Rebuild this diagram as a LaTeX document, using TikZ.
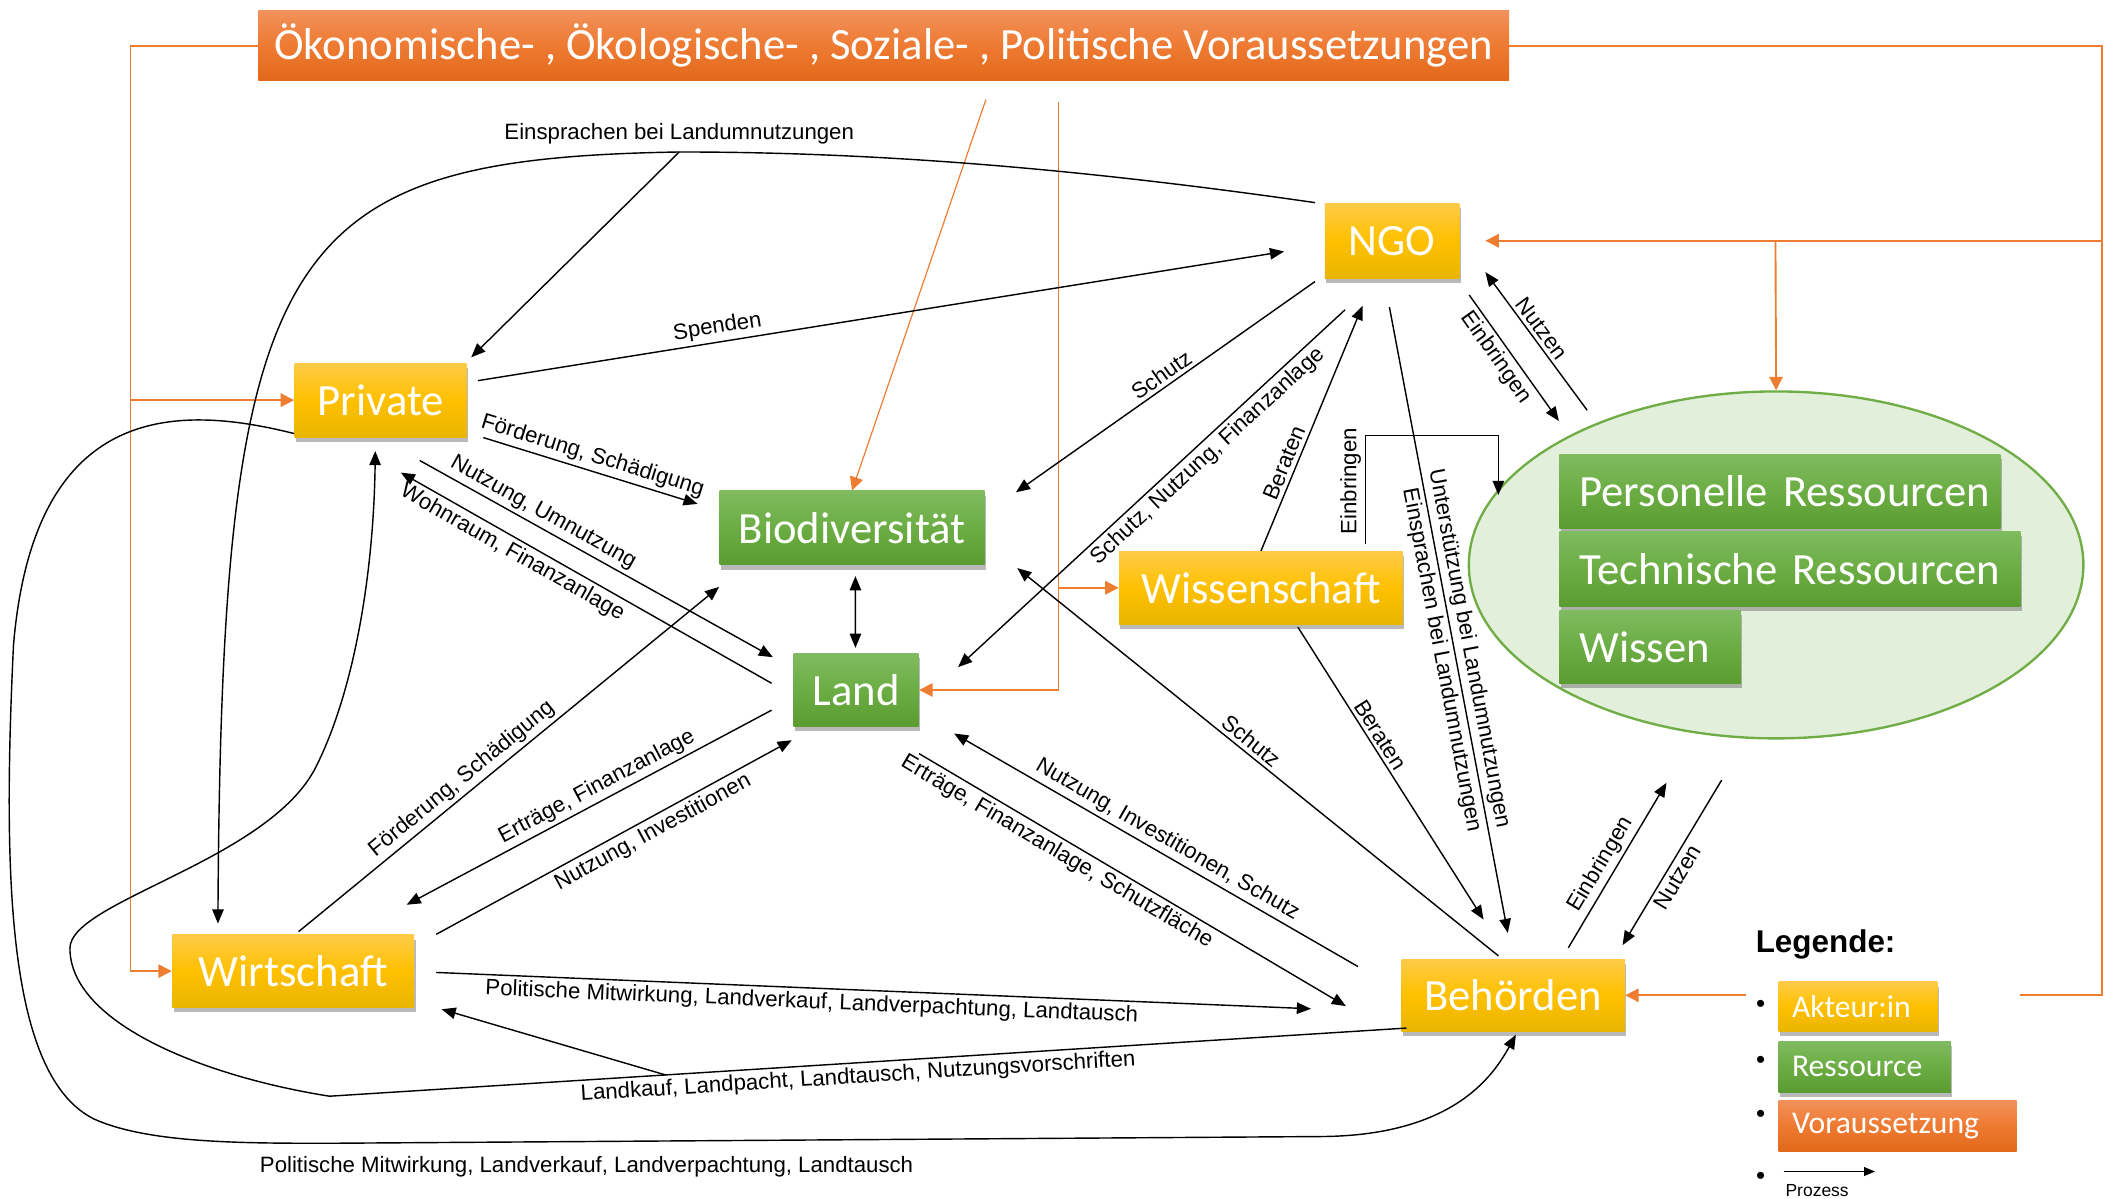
\documentclass[tikz,border=0pt]{standalone}
\usepackage{fontspec}
\setmainfont{Liberation Sans}
\newfontfamily\calibri{Carlito}
\usepackage{xcolor}
\usetikzlibrary{arrows.meta, shapes.geometric, shadows, positioning}
\definecolor{akteurTop}{HTML}{FFCB47}
\definecolor{akteurMid}{HTML}{FFC000}
\definecolor{akteurBot}{HTML}{E8B500}
\definecolor{resTop}{HTML}{80BB60}
\definecolor{resMid}{HTML}{6BAD44}
\definecolor{resBot}{HTML}{5B9C31}
\definecolor{vorTop}{HTML}{F2915A}
\definecolor{vorMid}{HTML}{EE7A32}
\definecolor{vorBot}{HTML}{E2691A}
\definecolor{vorOrange}{HTML}{ED7D31}
\definecolor{resFill}{HTML}{E2EFDA}
\definecolor{resRand}{HTML}{70AD47}
\tikzset{%
  >={Triangle[width=1.7mm,length=2.1mm]},
  % Specifications for style of nodes:
       base/.style = {rectangle, text=white, inner sep=0pt,
                      minimum height=1.1cm,
                      font=\calibri\fontsize{18.9}{22}\selectfont},
   schatten/.style = {drop shadow={shadow xshift=0.02cm, shadow yshift=-0.07cm,
                      opacity=0.5, fill=black!55}},
     akteur/.style = {base, schatten, top color=akteurTop,
                      bottom color=akteurBot, middle color=akteurMid},
  ressource/.style = {base, schatten, top color=resTop,
                      bottom color=resBot, middle color=resMid},
     voraus/.style = {base, top color=vorTop, bottom color=vorBot,
                      middle color=vorMid},
      liste/.style = {anchor=west, align=left},
   legtext/.style = {font=\calibri\fontsize{13.4}{15}\selectfont},
  % Specifications for style of connectors and labels:
      fluss/.style = {->, line width=0.6pt},
     vlinie/.style = {draw=vorOrange, line width=0.8pt},
     vfluss/.style = {vlinie, -{Triangle[width=2mm,length=2mm]}},
        lbl/.style = {font=\fontsize{9.4}{11}\selectfont, inner sep=1.5pt},
}

\begin{document}
\begin{tikzpicture}[x=0.02cm, y=-0.02cm]
  \useasboundingbox (0,0) rectangle (1568,891);
  % Specification of nodes (position, etc.)
  \node[voraus, minimum width=18.6cm, minimum height=1.04cm] (vor) at (657,34)
    {Ökonomische- , Ökologische- , Soziale- , Politische Voraussetzungen};
  \node[akteur, minimum width=2cm, minimum height=1.12cm] (ngo) at (1035,179) {NGO};
  \node[akteur, minimum width=2.56cm] (private) at (283,297.5) {Private};
  \node[ressource, minimum width=3.94cm] (bio) at (633.5,392.5) {Biodiversität};
  \node[ressource, minimum width=1.86cm, minimum height=1.08cm] (land) at (636.5,513) {Land};
  \node[akteur, minimum width=4.22cm, minimum height=1.08cm] (wiss) at (937.5,437) {Wissenschaft};
  \node[akteur, minimum width=3.6cm, minimum height=1.08cm] (wirt) at (218,722) {Wirtschaft};
  \node[akteur, minimum width=3.32cm, minimum height=1.08cm] (beh) at (1125,740) {Behörden};
  \node[ellipse, draw=resRand, line width=1pt, fill=resFill,
        minimum width=9.14cm, minimum height=5.16cm] (res) at (1320.5,420) {};
  \node[ressource, liste, minimum width=6.56cm, text width=5.96cm] (pers) at (1159,365.5)
    {\mbox{Personelle Ressourcen}};
  \node[ressource, liste, minimum width=6.86cm, minimum height=1.12cm, text width=6.26cm] (tech) at (1159,423)
    {\mbox{Technische Ressourcen}};
  \node[ressource, liste, minimum width=2.7cm, minimum height=1.08cm, text width=2.1cm] (wissen) at (1159,481)
    {Wissen};

  % Voraussetzungen
  \coordinate (vl) at (97,34);
  \coordinate (vlp) at (97,297.5);
  \coordinate (vr) at (1563,34);
  \coordinate (vrn) at (1563,179);
  \coordinate (vrr) at (1320,179);
  \coordinate (vrb) at (1502,740);
  \coordinate (vrb2) at (1298,740);
  \coordinate (vb) at (733,74);
  \coordinate (vm) at (787,76);
  \coordinate (vmw) at (787,437);
  \draw[vfluss] (vor.west) -- (vl) |- (wirt.west);
  \draw[vfluss] (vlp) -- (private.west);
  \draw[vlinie] (vor.east) -- (vr) |- (vrb);
  \draw[vfluss] (vrb2) -- (beh.east);
  \draw[vfluss] (vrn) -- ([shift={(19,0)}]ngo.east);
  \draw[vfluss] (vrr) -- (res.north);
  \draw[vfluss, line width=0.5pt] (vb) -- (bio.north);
  \draw[vfluss, line width=0.5pt] (vm) |- (land.east);
  \draw[vfluss] (vmw) -- (wiss.west);

  % Specification of lines between nodes specified above
  \coordinate (ein) at (505,113);
  \draw[fluss] ([shift={(-7,0)}]ngo.north west) .. controls (800,125) and (650,113) .. (ein)
    node[lbl, above=1.5pt] {Einsprachen bei Landumnutzungen}
    .. controls (210,118) and (165,180) .. ([shift={(-56,-8)}]wirt.north);
  \draw[fluss] (ein) -- ([shift={(3,-4)}]private.north east);
  \draw[fluss] ([shift={(8,-14.5)}]private.east) -- node[lbl, sloped, above, pos=0.3] {Spenden}
    ([shift={(-30,8)}]ngo.west);
  \draw[fluss] ([shift={(-7,2)}]ngo.south west) -- node[lbl, sloped, above, pos=0.49] {Schutz}
    ([shift={(23,-26.5)}]bio.east);
  \draw[fluss] ([shift={(-35,23)}]ngo.south) -- node[lbl, sloped, below, pos=0.38]
    {Schutz, Nutzung, Finanzanlage} ([shift={(29,-17)}]land.east);
  \draw[fluss] (wiss.north) -- node[lbl, sloped, above, pos=0.34] {Beraten}
    ([shift={(-22,20)}]ngo.south);
  \draw[fluss] ([shift={(7,12)}]ngo.south east) -- node[lbl, sloped, below, pos=0.43] {Einbringen}
    ([shift={(-161.5,-107)}]res.center);
  \draw[fluss] ([shift={(-140.5,-115)}]res.center) -- node[lbl, sloped, above, pos=0.54] {Nutzen}
    ([shift={(19,-5)}]ngo.south east);
  \draw[fluss] ([shift={(77.5,-5)}]wiss.north) -- node[lbl, sloped, above, pos=0.58] {Einbringen}
    ++(0,-81) -| ([shift={(-206.5,-52)}]res.center);
  \draw[fluss] ([shift={(-2,21)}]ngo.south) --
    node[lbl, sloped, above, pos=0.55] {Unterstützung bei Landumnutzungen}
    node[lbl, sloped, below, pos=0.56] {Einsprachen bei Landumnutzungen}
    ([shift={(-4,-19)}]beh.north);
  \draw[fluss] ([shift={(27.5,2)}]wiss.south) -- node[lbl, sloped, above, pos=0.39] {Beraten}
    ([shift={(-22,-29)}]beh.north);
  \draw[fluss] ([shift={(-11,-2)}]beh.north) -- node[lbl, sloped, above, pos=0.53] {Schutz}
    ([shift={(24,2)}]bio.south east);
  \draw[fluss, <->] ([shift={(2.5,8)}]bio.south) -- ([shift={(-0.5,-4)}]land.north);
  \draw[fluss] ([shift={(12,0)}]private.south east) -- node[lbl, sloped, above, pos=0.49]
    {Förderung, Schädigung} ([shift={(-16,10)}]bio.north west);
  \draw[fluss] ([shift={(29,17)}]private.south) -- node[lbl, sloped, above, pos=0.33]
    {Nutzung, Umnutzung} ([shift={(-15,3)}]land.north west);
  \draw[fluss] ([shift={(-16,-5)}]land.west) -- node[lbl, sloped, below, pos=0.68]
    {Wohnraum, Finanzanlage} ([shift={(15,26)}]private.south);
  \draw[fluss] ([shift={(4,-2)}]wirt.north) -- node[lbl, sloped, above, pos=0.41]
    {Förderung, Schädigung} ([shift={(0,16)}]bio.south west);
  \draw[fluss] ([shift={(-16,15)}]land.west) -- node[lbl, sloped, above, pos=0.46]
    {Erträge, Finanzanlage} ([shift={(-6,-22)}]wirt.north east);
  \draw[fluss] ([shift={(16,0)}]wirt.north east) -- node[lbl, sloped, below, pos=0.59]
    {Nutzung, Investitionen} ([shift={(-1,10)}]land.south west);
  \draw[fluss] ([shift={(-32,6)}]beh.north west) -- node[lbl, sloped, above, pos=0.49]
    {Nutzung, Investitionen, Schutz} ([shift={(26,5)}]land.south east);
  \draw[fluss] ([shift={(0,20)}]land.south east) -- node[lbl, sloped, below, pos=0.34]
    {Erträge, Finanzanlage, Schutzfläche} ([shift={(-41,8)}]beh.west);
  \draw[fluss] ([shift={(16,1)}]wirt.east) -- node[lbl, sloped, below, pos=0.43]
    {Politische Mitwirkung, Landverkauf, Landverpachtung, Landtausch} ([shift={(-67,10)}]beh.west);
  \draw[fluss] ([shift={(41,-8)}]beh.north) -- node[lbl, sloped, above, pos=0.46] {Einbringen}
    ([shift={(-81.5,162)}]res.center);
  \draw[fluss] ([shift={(-40.5,160)}]res.center) -- node[lbl, sloped, below, pos=0.55] {Nutzen}
    ([shift={(-2,-10)}]beh.north east);
  \draw[fluss] ([shift={(4,-3)}]beh.south west) -- node[lbl, sloped, below, pos=0.51]
    {Landkauf, Landpacht, Landtausch, Nutzungsvorschriften} coordinate[pos=0.688] (lk) (245,815)
    .. controls (150,800) and (52,760) .. (52,705)
    .. controls (52,670) and (200,640) .. (235,570)
    .. controls (265,510) and (278,420) .. ([shift={(-4,10)}]private.south);
  \draw[fluss] (lk) -- ([shift={(20,1)}]wirt.south east);
  \draw[fluss] ([shift={(0,-3)}]private.south west) .. controls (130,300) and (25,300) .. (10,480)
    .. controls (2,650) and (5,800) .. (70,832)
    .. controls (110,850) and (180,850) .. (245,850)
    -- node[lbl, below=4.5pt, pos=0.26] {Politische Mitwirkung, Landverkauf, Landverpachtung, Landtausch} (980,845)
    .. controls (1080,845) and (1110,800) .. ([shift={(2,2)}]beh.south);

  % Legende
  \node[font=\bfseries\fontsize{13.3}{15}\selectfont, anchor=west, inner sep=0pt] (leg) at (1305,702) {Legende:};
  \node[akteur, liste, legtext, minimum width=2.36cm, minimum height=0.74cm, text width=1.96cm]
    (legA) at (1322,748.5) {Akteur:in};
  \node[ressource, liste, legtext, minimum width=2.56cm, minimum height=0.76cm, text width=2.16cm]
    (legR) at (1322,793) {Ressource};
  \node[voraus, liste, legtext, minimum width=3.54cm, minimum height=0.76cm, text width=3.14cm]
    (legV) at (1322,837) {Voraussetzung};
  \foreach \y/\n in {748/1, 790/2, 830/3, 876/4}
    \node[font=\fontsize{11}{12}\selectfont, inner sep=0pt] (bul\n) at (1309,\y) {\textbullet};
  \coordinate (pA) at (1326,871);
  \coordinate (pB) at (1394,871);
  \draw[fluss, line width=0.5pt, -{Triangle[width=1.3mm,length=1.6mm]}] (pA) -- (pB);
  \node[font=\fontsize{7.4}{8}\selectfont, inner sep=0pt] (proz) at (1351,885) {Prozess};
\end{tikzpicture}
\end{document}
